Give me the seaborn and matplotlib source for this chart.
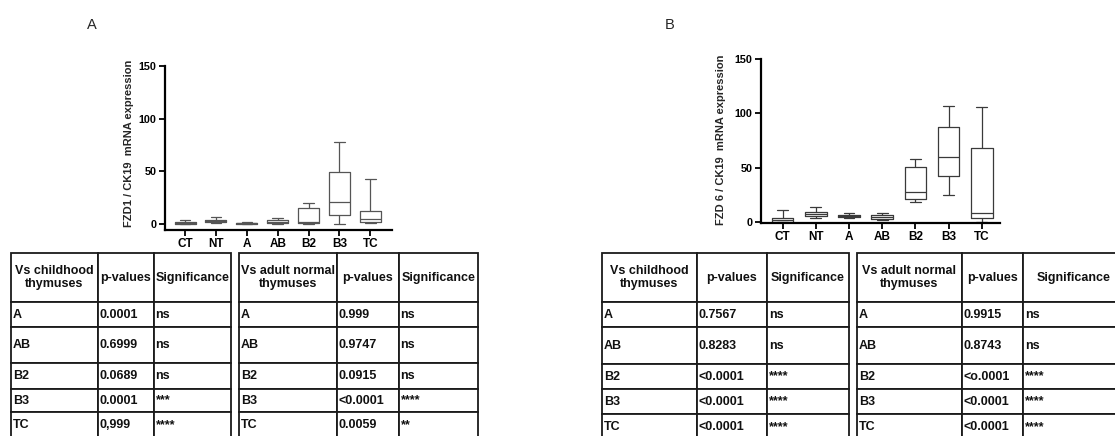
import matplotlib
matplotlib.use("Agg")
import matplotlib.pyplot as plt
import seaborn as sns
import pandas as pd
import numpy as np

# ---------------- data ----------------
groups = ["CT", "NT", "A", "AB", "B2", "B3", "TC"]

# FZD1 / CK19 five-number summaries (min, q1, median, q3, max)
fzd1_min = [0.0, 1.0, 0.0, 0.5, 0.0, 0.0, 0.7]
fzd1_q1 = [0.5, 1.8, 0.5, 1.0, 1.5, 8.3, 2.0]
fzd1_med = [1.0, 3.2, 1.0, 2.0, 2.0, 21.0, 4.5]
fzd1_q3 = [2.2, 4.0, 1.5, 4.0, 15.0, 49.5, 12.7]
fzd1_max = [3.8, 6.7, 2.5, 6.0, 20.0, 77.5, 42.8]

# FZD6 / CK19 five-number summaries
fzd6_min = [0.0, 3.7, 3.7, 2.4, 19.0, 25.4, 0.5]
fzd6_q1 = [0.3, 6.0, 4.9, 3.4, 21.7, 42.8, 4.5]
fzd6_med = [1.8, 7.6, 5.8, 5.2, 28.0, 60.0, 9.0]
fzd6_q3 = [3.7, 10.0, 7.0, 6.4, 50.5, 87.8, 68.0]
fzd6_max = [11.0, 14.0, 9.0, 8.6, 57.8, 107.0, 106.0]

# tables
comparisons = ["A", "AB", "B2", "B3", "TC"]
hdr_child = ["Vs childhood\nthymuses", "p-values", "Significance"]
hdr_adult = ["Vs adult normal\nthymuses", "p-values", "Significance"]

fzd1_child_p = ["0.0001", "0.6999", "0.0689", "0.0001", "0,999"]
fzd1_child_sig = ["ns", "ns", "ns", "***", "****"]
fzd1_adult_p = ["0.999", "0.9747", "0.0915", "<0.0001", "0.0059"]
fzd1_adult_sig = ["ns", "ns", "ns", "****", "**"]

fzd6_child_p = ["0.7567", "0.8283", "<0.0001", "<0.0001", "<0.0001"]
fzd6_child_sig = ["ns", "ns", "****", "****", "****"]
fzd6_adult_p = ["0.9915", "0.8743", "<o.0001", "<0.0001", "<0.0001"]
fzd6_adult_sig = ["ns", "ns", "****", "****", "****"]

ylabel_1 = "FZD1 / CK19  mRNA expression"
ylabel_6 = "FZD 6 / CK19  mRNA expression"

# ---------------- style ----------------
sns.set_style("ticks")
FONT = ["Liberation Sans", "DejaVu Sans"]
plt.rcParams["font.family"] = FONT

W, H = 1115, 436
fig = plt.figure(figsize=(W / 100, H / 100), dpi=100)


def px_axes(l, t, r, b):
    return fig.add_axes([l / W, 1 - b / H, (r - l) / W, (b - t) / H])


def long_frame(mins, q1s, meds, q3s, maxs):
    rows = []
    for g, a, b, c, d, e in zip(groups, mins, q1s, meds, q3s, maxs):
        for v in (a, b, c, d, e):
            rows.append({"group": g, "value": v})
    return pd.DataFrame(rows)


def box_panel(rect, df, ylim, xlim, ylabel, label_xy, box_w, color):
    ax = px_axes(*rect)
    sns.boxplot(data=df, x="group", y="value", order=groups, ax=ax,
                fill=False, color=color, linewidth=0.9, width=box_w,
                whis=(0, 100), showfliers=False)
    ax.set_ylim(*ylim)
    ax.set_xlim(*xlim)
    ax.set_yticks([0, 50, 100, 150])
    ax.set_xlabel("")
    ax.set_ylabel(ylabel, fontsize=8, fontweight="bold")
    ax.yaxis.set_label_coords(*label_xy)
    sns.despine(ax=ax)
    for s in ("left", "bottom"):
        ax.spines[s].set_linewidth(1.6)
        ax.spines[s].set_color("black")
    ax.tick_params(axis="both", width=1.3, length=4, pad=2, colors="black")
    ax.tick_params(axis="y", labelsize=7.8)
    ax.tick_params(axis="x", labelsize=8.5)
    for t in ax.get_xticklabels() + ax.get_yticklabels():
        t.set_fontweight("bold")
    ax.patch.set_alpha(0)
    return ax


def draw_table(xs, ys, header, first, second, third):
    ax = px_axes(xs[0], ys[0], xs[-1], ys[-1])
    ax.axis("off")
    cell_text = [header] + [list(r) for r in zip(first, second, third)]
    widths = list(np.diff(xs) / (xs[-1] - xs[0]))
    heights = np.diff(ys) / (ys[-1] - ys[0])
    tb = ax.table(cellText=cell_text, colWidths=widths, bbox=[0, 0, 1, 1],
                  cellLoc="left")
    tb.auto_set_font_size(False)
    tb.set_fontsize(9)
    for (r, c), cell in tb.get_celld().items():
        cell.set_height(heights[r])
        cell.set_linewidth(1.3)
        cell.set_edgecolor("#1a1a1a")
        cell.PAD = 0.02
        t = cell.get_text()
        t.set_fontweight("bold")
        t.set_color("#111111")
        if r == 0:
            t.set_ha("center")
            t.set_linespacing(1.2)
    return ax


# ---------------- panel A ----------------
dfA = long_frame(fzd1_min, fzd1_q1, fzd1_med, fzd1_q3, fzd1_max)
box_panel((165, 66, 392, 230), dfA, (-5.5, 150), (-0.65, 6.7), ylabel_1,
          (-0.137, 0.53), 0.68, "#555555")

rowsA = [253, 302, 327, 363, 389, 412, 438]
draw_table([11, 98, 154, 231], rowsA, hdr_child, comparisons, fzd1_child_p, fzd1_child_sig)
draw_table([239, 337, 399, 478], rowsA, hdr_adult, comparisons, fzd1_adult_p, fzd1_adult_sig)

# ---------------- panel B ----------------
dfB = long_frame(fzd6_min, fzd6_q1, fzd6_med, fzd6_q3, fzd6_max)
box_panel((761, 59, 1000, 223), dfB, (-0.5, 150), (-0.65, 6.55), ylabel_6,
          (-0.145, 0.507), 0.65, "#3a3a3a")

rowsB = [253, 302, 327, 364, 389, 414, 440]
draw_table([602, 697, 767, 849], rowsB, hdr_child, comparisons, fzd6_child_p, fzd6_child_sig)
draw_table([857, 962, 1023, 1125], rowsB, hdr_adult, comparisons, fzd6_adult_p, fzd6_adult_sig)

# panel letters
fig.text(92 / W, 1 - 25 / H, "A", fontsize=10.5, ha="center", va="center")
fig.text(670 / W, 1 - 25 / H, "B", fontsize=10.5, ha="center", va="center")

fig.savefig("out.png", dpi=100, facecolor="white")
